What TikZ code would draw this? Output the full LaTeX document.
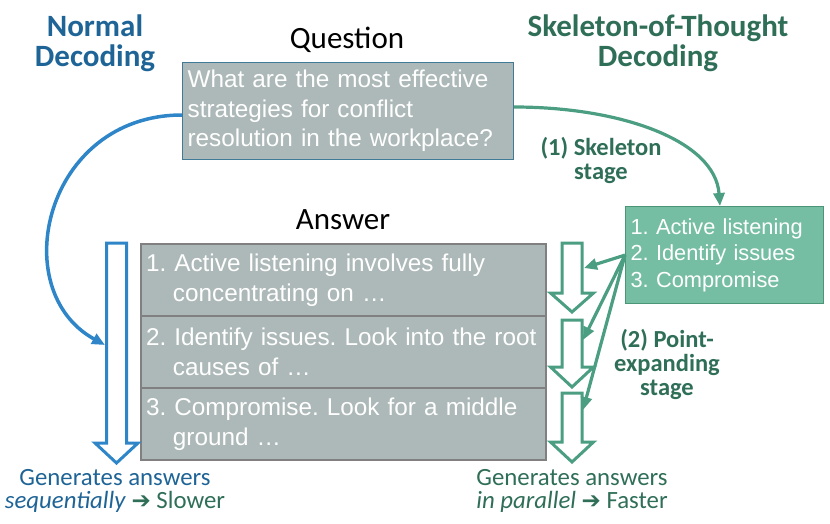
\documentclass[tikz,border=0pt]{standalone}
\usepackage{fontspec}
\setmainfont{Carlito}
\newfontfamily\boxfont{Liberation Sans}
\newfontfamily\symfont{DejaVu Sans}
\usetikzlibrary{arrows.meta}
\frenchspacing

\definecolor{ndblue}{RGB}{31,100,150}
\definecolor{arrowblue}{RGB}{46,134,200}
\definecolor{sotgreen}{RGB}{47,110,87}
\definecolor{arrowgreen}{RGB}{76,158,130}
\definecolor{skelfill}{RGB}{118,190,163}
\definecolor{skelline}{RGB}{76,150,120}
\definecolor{boxgrey}{RGB}{173,185,184}
\definecolor{rowline}{RGB}{128,128,128}
\definecolor{qline}{RGB}{64,122,150}

% hollow down arrow: colour, x centre, top, start of head, tip
\newcommand{\hollowarrow}[5]{%
  \draw[#1, line width=3pt, line join=miter, fill=white]
    (#2-10,#3) -- (#2+10,#3) -- (#2+10,#4) -- (#2+21.5,#4) -- (#2,#5)
    -- (#2-21.5,#4) -- (#2-10,#4) -- cycle;}

\begin{document}
\begin{tikzpicture}[x=1pt,y=-1pt,
  >={Triangle[length=13pt,width=11pt]},
  title/.style={font=\fontsize{31}{30}\selectfont\bfseries, align=center},
  heading/.style={font=\fontsize{31}{32}\selectfont, text=black},
  stage/.style={font=\fontsize{24.5}{24}\selectfont\bfseries, text=sotgreen, align=center},
  note/.style={font=\fontsize{24.8}{23}\selectfont, align=center},
  greybox/.style={fill=boxgrey, text=white, align=left, anchor=north west,
    font=\boxfont\fontsize{24.3}{29.5}\selectfont, inner sep=5pt},
  qbox/.style={greybox, draw=qline, line width=1.2pt,
    minimum width=331pt, minimum height=97pt, text width=321pt},
  row/.style={greybox, draw=rowline, line width=2pt,
    minimum width=405pt, minimum height=72pt, text width=395pt},
  skelbox/.style={fill=skelfill, draw=skelline, line width=1.2pt, text=white,
    align=left, anchor=north west, font=\boxfont\fontsize{21.8}{26.5}\selectfont,
    inner sep=5pt, minimum width=198pt, minimum height=97pt, text width=188pt},
  blueflow/.style={->, arrowblue, line width=3.5pt},
  greenflow/.style={->, arrowgreen, line width=3.2pt}
]
\useasboundingbox (0,0) rectangle (830,523);

% titles
\node (normal) [title, text=ndblue] at (95,43) {Normal\\Decoding};
\node (sot) [title, text=sotgreen] at (658,43) {Skeleton-of-Thought\\Decoding};
\node (qhead) [heading] at (347,40) {Question};
\node (ahead) [heading] at (343,220) {Answer};

% question
\node (q) [qbox] at (182,62) {What are the most effective\\strategies for conflict\\resolution in the workplace?};

% answer rows
\node (a1) [row] at (140,243) {1. Active listening involves fully\\\hspace*{1.11em}concentrating on …};
\node (a2) [row] at (140,315) {2. Identify issues. Look into the root\\\hspace*{1.11em}causes of …};
\node (a3) [row] at (140,387) {3. Compromise. Look for a middle\\\hspace*{1.11em}ground …};

% skeleton
\node (sk) [skelbox] at (625,206) {1. Active listening\\2. Identify issues\\3. Compromise};

% hollow arrows
\hollowarrow{arrowblue}{116.5}{243}{443}{463}
\hollowarrow{arrowgreen}{572}{243}{293}{312}
\hollowarrow{arrowgreen}{572}{320}{367}{387}
\hollowarrow{arrowgreen}{572}{393}{442}{462}

\coordinate (seqin) at (105,345);
\coordinate (p1) at (584,268);
\coordinate (p2) at (583,340);
\coordinate (p3) at (583,410);

% flows
\draw[blueflow] (q.west |- 0,115) .. controls (45,115) and (5,290) .. (seqin);
\draw[greenflow] (q.east |- 0,107) .. controls (620,107) and (715,140) .. (sk.north -| 720,0);
\draw[greenflow] (sk.west) -- (p1);
\draw[greenflow] (sk.west) -- (p2);
\draw[greenflow] (sk.west) -- (p3);

% stage labels
\node (stage1) [stage] at (601,160) {(1) Skeleton\\stage};
\node (stage2) [stage] at (667,364) {(2) Point-\\expanding\\stage};

% bottom notes
\node (seqnote) [note, text=ndblue] at (115,491)
  {Generates answers\\\textit{sequentially} {\color{sotgreen}{\symfont\fontsize{23}{23}\selectfont ➔} Slower}};
\node (parnote) [note, text=sotgreen] at (572,491)
  {Generates answers\\\textit{in parallel} {\symfont\fontsize{23}{23}\selectfont ➔} Faster};
\end{tikzpicture}
\end{document}
